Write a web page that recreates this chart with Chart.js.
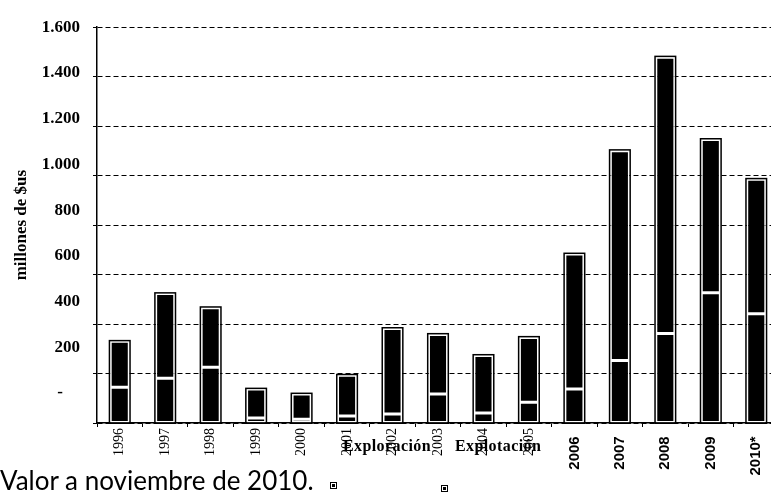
<!DOCTYPE html>
<html lang="es">
<head>
<meta charset="utf-8">
<title>Inversión en exploración y explotación</title>
<script src="https://cdn.jsdelivr.net/npm/chart.js@4.4.1/dist/chart.umd.min.js"></script>
<style>
  html, body { margin: 0; padding: 0; background: #fff; overflow: hidden; }
  #wrap { position: relative; width: 771px; height: 496px; overflow: hidden; }
  #investChart { position: absolute; left: 0; top: 0; }
  .legendItem {
    position: absolute; top: 438px; font: bold 16px "Liberation Serif", serif;
    letter-spacing: 0.4px; line-height: 16px; color: #000; white-space: nowrap;
  }
  #footNote {
    position: absolute; left: 0; top: 467px; font: 26px Lato, sans-serif;
    line-height: 26px; color: #000; white-space: nowrap;
  }
  .scanBox {
    position: absolute; width: 5px; height: 5px; border: 1px solid #000;
    box-shadow: inset 0 0 0 1px #fff, inset 0 0 0 3px #000;
  }
</style>
</head>
<body>
<div id="wrap">
  <canvas id="investChart" width="779" height="496"></canvas>
  <div class="legendItem" style="left:343px">Exploración</div>
  <div class="legendItem" style="left:455px">Explotación</div>
  <div id="footNote">Valor a noviembre de 2010.</div>
  <div class="scanBox" style="left:330px; top:482px"></div>
  <div class="scanBox" style="left:441px; top:485px"></div>
</div>
<script>
// Data (millones de $us)
const years = ["1996", "1997", "1998", "1999", "2000", "2001", "2002", "2003",
  "2004", "2005", "2006", "2007", "2008", "2009", "2010*"];
const exploracion = [145, 181, 225, 20, 15, 28, 36, 117, 40, 84, 137, 253, 362, 527, 442];
const explotacion = [185, 342, 241, 117, 102, 165, 346, 241, 233, 262, 546, 848, 1117, 619, 543];

// Tick labels as printed on the scan
const yTickValues = [0, 200, 400, 600, 800, 1000, 1200, 1400, 1600];
const yTickLabels = ["-    ", "200", "400", "600", "800", "1.000", "1.200", "1.400", "1.600"];

// Black outline drawn around each whole stacked bar
const barOutline = {
  id: "barOutline",
  afterDatasetsDraw(chart) {
    const ctx = chart.ctx;
    const metas = chart.data.datasets.map(function (ds, i) { return chart.getDatasetMeta(i); });
    ctx.save();
    ctx.strokeStyle = "#000";
    ctx.lineWidth = 1.5;
    metas[0].data.forEach(function (bar, idx) {
      let top = Infinity, bottom = -Infinity, x = 0, w = 0;
      metas.forEach(function (meta) {
        const p = meta.data[idx].getProps(["x", "y", "base", "width"], true);
        top = Math.min(top, p.y, p.base);
        bottom = Math.max(bottom, p.y, p.base);
        x = p.x;
        w = p.width;
      });
      ctx.strokeRect(x - w / 2 - 0.75, top - 0.75, w + 1.5, bottom - top + 1.5);
    });
    ctx.restore();
  }
};

const serifFont = { family: '"Liberation Serif", serif', size: 14 };
const sansFont = { family: '"Liberation Sans", Arial, sans-serif', size: 15, weight: "bold" };

const ctx = document.getElementById("investChart").getContext("2d");
new Chart(ctx, {
  type: "bar",
  data: {
    labels: years,
    datasets: [
      {
        label: "Exploración",
        data: exploracion,
        backgroundColor: "#000",
        borderColor: "#fff",
        borderWidth: 1.5,
        borderSkipped: false
      },
      {
        label: "Explotación",
        data: explotacion,
        backgroundColor: "#000",
        borderColor: "#fff",
        borderWidth: 1.5,
        borderSkipped: false
      }
    ]
  },
  options: {
    responsive: false,
    animation: false,
    layout: { padding: { top: 25, left: 0, right: 0, bottom: 0 } },
    datasets: { bar: { barPercentage: 0.42, categoryPercentage: 1 } },
    scales: {
      x: {
        stacked: true,
        afterFit: function (scale) { scale.height = 73; },
        grid: { drawOnChartArea: false, color: "#000", tickLength: 4 },
        border: { color: "#000", width: 1.5 },
        ticks: {
          color: "#000",
          minRotation: 90,
          maxRotation: 90,
          autoSkip: false,
          padding: 1,
          font: function (c) { return c.index >= 10 ? sansFont : serifFont; },
          callback: function (value, index) {
            return index >= 10 ? years[index] + "  " : years[index];
          }
        }
      },
      y: {
        stacked: true,
        weight: 0,
        min: 0,
        max: 1600,
        afterFit: function (scale) { scale.width = 0; },
        ticks: { stepSize: 200, display: false },
        grid: { color: "#000", lineWidth: 1, tickLength: 4, tickColor: "#000" },
        border: { color: "#000", width: 1.5, dash: [5, 3] }
      },
      // label axis: the scan prints its numbers slightly off the gridlines
      yLabels: {
        position: "left",
        weight: 1,
        min: -131,
        max: 1600,
        afterFit: function (scale) { scale.width = 97; },
        afterBuildTicks: function (scale) {
          scale.ticks = yTickValues.map(function (v) { return { value: v }; });
        },
        grid: { display: false, drawTicks: false },
        border: { display: false },
        ticks: {
          color: "#000",
          padding: 17,
          font: { family: '"Liberation Serif", serif', size: 17, weight: "bold" },
          callback: function (value) { return yTickLabels[yTickValues.indexOf(value)]; }
        },
        title: {
          display: true,
          text: "millones de $us",
          color: "#000",
          padding: { top: 11, bottom: 0 },
          font: { family: '"Liberation Serif", serif', size: 17, weight: "bold" }
        }
      }
    },
    plugins: {
      legend: { display: false },
      tooltip: { enabled: false }
    }
  },
  plugins: [barOutline]
});
</script>
</body>
</html>
